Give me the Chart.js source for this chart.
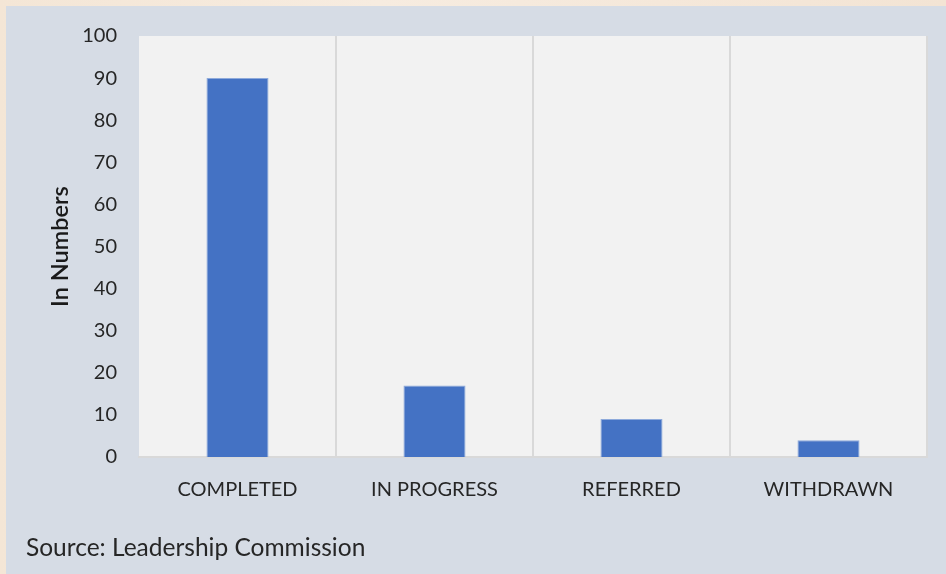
<!DOCTYPE html>
<html>
<head>
<meta charset="utf-8">
<script src="https://cdn.jsdelivr.net/npm/chart.js@4/dist/chart.umd.min.js"></script>
<style>
  html, body { margin: 0; padding: 0; }
  body { width: 946px; height: 574px; overflow: hidden; position: relative;
         background: linear-gradient(90deg, #f4e6d6 0%, #f7ece0 40%, #f3e4d4 100%); }
  #panel { position: absolute; left: 6px; top: 6px; width: 940px; height: 568px; background: #d6dce5; }
  #wrap { position: absolute; left: 0; top: 0; width: 940px; height: 568px; }
  #source { position: absolute; left: 20px; top: 526px; font-family: Lato, "Open Sans", sans-serif;
            font-size: 24.5px; color: #262626; white-space: nowrap; }
</style>
</head>
<body>
<div id="panel">
  <div id="wrap"><canvas id="c" width="940" height="568"></canvas></div>
  <div id="source">Source: Leadership Commission</div>
</div>
<script>
const categories = ["COMPLETED", "IN PROGRESS", "REFERRED", "WITHDRAWN"];
const values = [90, 17, 9, 4];
const yTicks = [0, 10, 20, 30, 40, 50, 60, 70, 80, 90, 100];
const yTitle = "In Numbers";

const plotBg = {
  id: 'plotBg',
  beforeDraw(chart) {
    const {ctx, chartArea: a} = chart;
    ctx.save();
    ctx.fillStyle = '#f2f2f2';
    ctx.fillRect(a.left, a.top, a.right - a.left, a.bottom - a.top);
    ctx.restore();
  }
};

new Chart(document.getElementById('c'), {
  type: 'bar',
  data: {
    labels: categories,
    datasets: [{
      data: values,
      backgroundColor: '#4472c4',
      borderColor: '#8eaadb',
      borderWidth: 1,
      categoryPercentage: 1,
      barPercentage: 0.315
    }]
  },
  options: {
    responsive: false,
    animation: false,
    devicePixelRatio: 1,
    layout: { padding: { left: 0, top: 30, right: 19, bottom: 57 } },
    plugins: { legend: { display: false }, tooltip: { enabled: false }, title: { display: false } },
    scales: {
      x: {
        offset: true,
        grid: {
          display: true,
          offset: true,
          drawTicks: false,
          lineWidth: 2,
          color: (ctx) => ctx.index === 0 ? 'rgba(0,0,0,0)' : '#d9d9d9'
        },
        border: { display: true, color: '#d9d9d9', width: 2 },
        ticks: { color: '#262626', font: { family: 'Lato', size: 20 }, padding: 21, maxRotation: 0 },
        afterFit: (s) => { s.height = 60; }
      },
      y: {
        min: 0, max: 100,
        afterBuildTicks: (s) => { s.ticks = yTicks.map(v => ({ value: v })); },
        grid: { display: false, drawTicks: false },
        border: { display: false },
        ticks: { color: '#262626', font: { family: 'Lato', size: 20 }, padding: 22 },
        title: {
          display: true, text: yTitle, color: '#1a1a1a',
          font: { family: 'Lato', size: 23.5, weight: '600' },
          padding: { top: 40, bottom: 0 }
        },
        afterFit: (s) => { s.width = 133; s.paddingTop = 0; s.paddingBottom = 0; }
      }
    }
  },
  plugins: [plotBg]
});
</script>
</body>
</html>
